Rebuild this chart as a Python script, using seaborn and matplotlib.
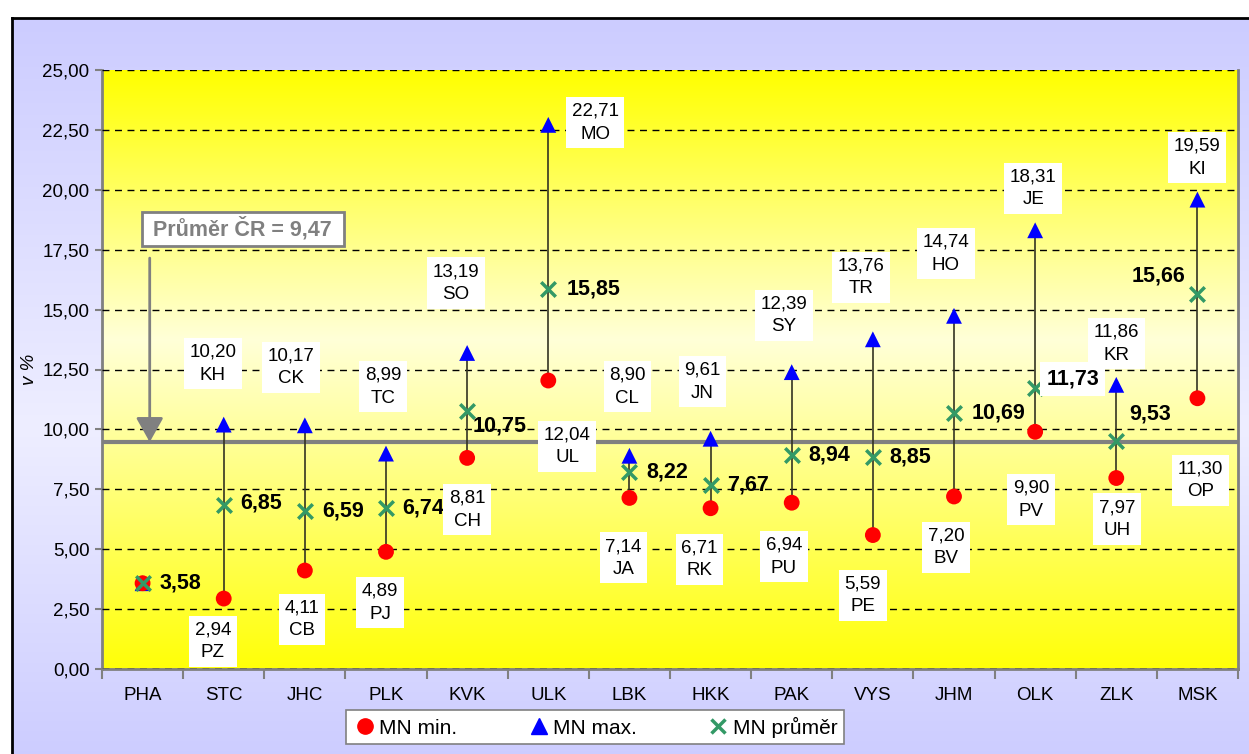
import numpy as np
import matplotlib
matplotlib.use("Agg")
import matplotlib.pyplot as plt
from matplotlib.colors import LinearSegmentedColormap
from matplotlib.lines import Line2D
from matplotlib.ticker import FuncFormatter, FixedLocator
import seaborn as sns

# data
regions = ['PHA', 'STC', 'JHC', 'PLK', 'KVK', 'ULK', 'LBK', 'HKK', 'PAK', 'VYS', 'JHM', 'OLK', 'ZLK', 'MSK']
mn_min = [3.58, 2.94, 4.11, 4.89, 8.81, 12.04, 7.14, 6.71, 6.94, 5.59, 7.20, 9.90, 7.97, 11.30]
mn_max = [3.58, 10.20, 10.17, 8.99, 13.19, 22.71, 8.90, 9.61, 12.39, 13.76, 14.74, 18.31, 11.86, 19.59]
mn_avg = [3.58, 6.85, 6.59, 6.74, 10.75, 15.85, 8.22, 7.67, 8.94, 8.85, 10.69, 11.73, 9.53, 15.66]
min_codes = ['', 'PZ', 'CB', 'PJ', 'CH', 'UL', 'JA', 'RK', 'PU', 'PE', 'BV', 'PV', 'UH', 'OP']
max_codes = ['', 'KH', 'CK', 'TC', 'SO', 'MO', 'CL', 'JN', 'SY', 'TR', 'HO', 'JE', 'KR', 'KI']
cr_avg = 9.47

# label offsets in pixels (dx, dy)
max_off = [None, (-11, 61), (-14, 58), (-3, 67), (-11, 70), (47, 2), (-2, 69), (-8, 57),
           (-8, 57), (-12, 62), (-8, 62), (-2, 42), (0, 41), (0, 42)]
min_off = [None, (-11, -43), (-3, -49), (-6, -51), (0, -52), (19, -66), (-6, -60), (-11, -51),
           (-8, -54), (-10, -60), (-8, -51), (-4, -68), (1, -41), (3, -82)]
avg_off = [(17, 0), (17, 2), (17, 0), (16, 0), (5, -15), (18, 0), (17, 0), (17, 0),
           (17, 0), (17, 0), (18, 0), (11, 9), (13, 27), (-12, 18)]

sns.set_style("white")
plt.rcParams['font.family'] = ['Liberation Sans', 'DejaVu Sans']
plt.rcParams['text.color'] = 'black'
plt.rcParams['axes.labelcolor'] = 'black'
plt.rcParams['xtick.labelcolor'] = 'black'
plt.rcParams['ytick.labelcolor'] = 'black'

W, H = 1249, 754
fig = plt.figure(figsize=(W / 100, H / 100), dpi=100, facecolor='white')

# lavender background panel with black border
bg = fig.add_axes([12 / W, -0.01, 1 - 12 / W + 0.01, (H - 18) / H + 0.01])
bg_cmap = LinearSegmentedColormap.from_list('bg', [(0, '#CCCCFF'), (0.55, '#EEEEFF'), (1, '#CCCCFF')])
bg.imshow(np.linspace(0, 1, 256).reshape(-1, 1), cmap=bg_cmap, aspect='auto', extent=(0, 1, 0, 1))
bg.set_xticks([])
bg.set_yticks([])
for s in bg.spines.values():
    s.set_color('black')
    s.set_linewidth(2)

ax = fig.add_axes([102 / W, (H - 669) / H, 1136 / W, 599 / H])
ax.patch.set_visible(False)

# yellow gradient plot area
yl_cmap = LinearSegmentedColormap.from_list('yl', [(0, '#FFFF00'), (0.45, '#FFFFD8'), (1, '#FFFF08')])
ax.imshow(np.linspace(0, 1, 256).reshape(-1, 1), cmap=yl_cmap, aspect='auto',
          extent=(-0.5, 13.5, 0, 25), zorder=0)

x = np.arange(len(regions))
ax.vlines(x, mn_min, mn_max, color='#333322', lw=1.2, zorder=3)
ax.axhline(cr_avg, color='#808080', lw=3, zorder=2)

sns.scatterplot(x=x, y=mn_max, marker='^', color='#0000FF', s=130, edgecolor='none', ax=ax, zorder=4)
sns.scatterplot(x=x, y=mn_min, marker='o', color='#FF0000', s=130, edgecolor='none', ax=ax, zorder=5)
sns.scatterplot(x=x, y=mn_avg, marker='x', color='#339966', s=110, linewidth=2.5, ax=ax, zorder=6)

fmt = lambda v: f'{v:.2f}'.replace('.', ',')
box = dict(boxstyle='square,pad=0.3', facecolor='white', edgecolor='none')
for i in range(len(regions)):
    if max_off[i] is not None:
        ax.annotate(fmt(mn_max[i]) + '\n' + max_codes[i], (x[i], mn_max[i]), xytext=max_off[i],
                    textcoords='offset pixels', ha='center', va='center', fontsize=13.5,
                    linespacing=1.45, bbox=box, zorder=7)
        ax.annotate(fmt(mn_min[i]) + '\n' + min_codes[i], (x[i], mn_min[i]), xytext=min_off[i],
                    textcoords='offset pixels', ha='center', va='center', fontsize=13.5,
                    linespacing=1.45, bbox=box, zorder=7)
    ha = 'right' if avg_off[i][0] < 0 else 'left'
    abox = box if regions[i] == 'OLK' else None
    ax.annotate(fmt(mn_avg[i]), (x[i], mn_avg[i]), xytext=avg_off[i], textcoords='offset pixels',
                ha=ha, va='center', fontsize=15.5, fontweight='bold', bbox=abox, zorder=7)

# national average note
ax.text(0.124, 0.735, ' Průměr ČR = ' + fmt(cr_avg) + ' ', transform=ax.transAxes, ha='center', va='center',
        fontsize=15.5, fontweight='bold', color='#808080', zorder=8,
        bbox=dict(boxstyle='square,pad=0.25', facecolor='white', edgecolor='#808080', lw=2))
ax.annotate('', xy=(0.042, cr_avg), xytext=(0.042, 17.15), xycoords=('axes fraction', 'data'),
            arrowprops=dict(arrowstyle='-|>,head_length=0.5,head_width=0.28', color='#808080', lw=2,
                            mutation_scale=30, shrinkA=0, shrinkB=0), zorder=8)

ax.set_xlim(-0.5, 13.5)
ax.set_ylim(0, 25)
ax.set_yticks(np.arange(0, 25.01, 2.5))
ax.yaxis.set_major_formatter(FuncFormatter(lambda v, p: fmt(v)))
ax.yaxis.grid(True, color='black', ls=(0, (5, 4)), lw=1)
ax.set_axisbelow(False)
for line in ax.get_ygridlines():
    line.set_zorder(1)
ax.xaxis.set_major_locator(FixedLocator(np.arange(-0.5, 13.6, 1)))
ax.xaxis.set_major_formatter(FuncFormatter(lambda v, p: ''))
ax.xaxis.set_minor_locator(FixedLocator(x))
ax.set_xticks(x, regions, minor=True)
ax.tick_params(axis='x', which='major', length=7, width=1.5, color='#808080', direction='out', bottom=True)
ax.tick_params(axis='x', which='minor', length=0, pad=13, labelsize=13.5, labelcolor='black')
ax.tick_params(axis='y', length=5, width=1.5, color='#808080', labelsize=13.5, pad=4, left=True,
               labelcolor='black')
for side in ['left', 'bottom', 'right']:
    ax.spines[side].set_color('#808080')
    ax.spines[side].set_linewidth(2)
ax.spines['top'].set_visible(False)
ax.set_ylabel('v %', fontsize=13.5, style='italic', color='black')
ax.yaxis.set_label_coords(-0.056, 0.5)

handles = [Line2D([], [], marker='o', color='#FF0000', ls='none', markersize=11),
           Line2D([], [], marker='^', color='#0000FF', ls='none', markersize=11),
           Line2D([], [], marker='x', color='#339966', ls='none', markersize=10, markeredgewidth=2.5)]
leg = fig.legend(handles, ['MN min.', 'MN max.', 'MN průměr'], loc='center', ncol=3,
                 bbox_to_anchor=(595 / W, 27 / H), fontsize=15, frameon=True, fancybox=False,
                 edgecolor='#808080', facecolor='white', framealpha=1, handletextpad=0.1,
                 columnspacing=3.3, handlelength=1.2, borderpad=0.3)
leg.get_frame().set_linewidth(1.2)
for t in leg.get_texts():
    t.set_color('black')

fig.savefig('out.png', dpi=100)
